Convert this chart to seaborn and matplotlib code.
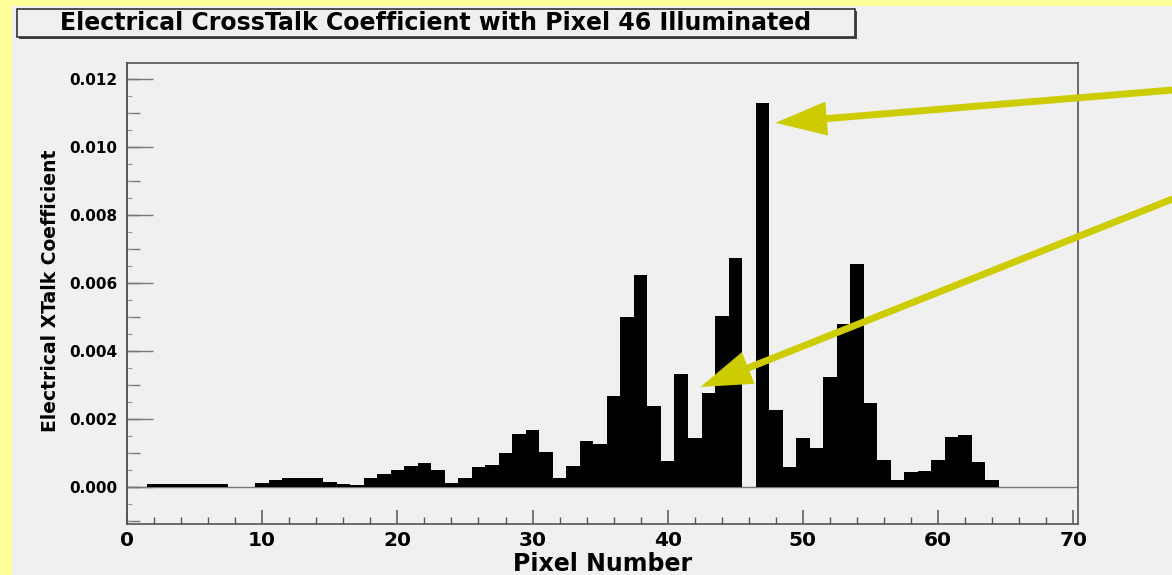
import numpy as np
import pandas as pd
import matplotlib
matplotlib.use("Agg")
import matplotlib.pyplot as plt
import seaborn as sns
from matplotlib.ticker import MultipleLocator, FormatStrFormatter, FixedLocator
from matplotlib.patches import Rectangle

# ---------------- data ----------------
pixel_number = list(range(1, 65))
xtalk_coeff = [
    0.00000, 0.00010, 0.00008, 0.00008, 0.00008, 0.00008, 0.00008, 0.00000,
    0.00000, 0.00011, 0.00020, 0.00027, 0.00027, 0.00027, 0.00016, 0.00010,
    0.00006, 0.00026, 0.00037, 0.00049, 0.00062, 0.00069, 0.00049, 0.00013,
    0.00026, 0.00059, 0.00064, 0.00100, 0.00157, 0.00167, 0.00104, 0.00026,
    0.00061, 0.00134, 0.00126, 0.00267, 0.00499, 0.00623, 0.00237, 0.00077,
    0.00332, 0.00144, 0.00276, 0.00504, 0.00672, 0.00000, 0.01130, 0.00225,
    0.00059, 0.00143, 0.00116, 0.00324, 0.00478, 0.00657, 0.00246, 0.00079,
    0.00020, 0.00044, 0.00047, 0.00080, 0.00147, 0.00154, 0.00072, 0.00021,
]
x_ticks = [0, 10, 20, 30, 40, 50, 60, 70]
y_ticks = [0.000, 0.002, 0.004, 0.006, 0.008, 0.010, 0.012]
title_text = "Electrical CrossTalk Coefficient with Pixel 46 Illuminated"
x_label = "Pixel Number"
y_label = "Electrical XTalk Coefficient"
illuminated_pixel = 46
arrow_targets = [47, 43]

df = pd.DataFrame({"pixel": pixel_number, "xtalk": xtalk_coeff})

# ---------------- style ----------------
sns.set_style("ticks")
plt.rcParams["font.family"] = ["DejaVu Sans"]
plt.rcParams["font.weight"] = "bold"
plt.rcParams["text.color"] = "black"
plt.rcParams["axes.labelcolor"] = "black"
plt.rcParams["xtick.labelcolor"] = "black"
plt.rcParams["ytick.labelcolor"] = "black"

W, H = 1172, 575
PANEL = "#f0f0f0"
YELLOW = "#ffff99"
ARROW = "#cccc00"
AXC = "#555555"

fig = plt.figure(figsize=(W / 100, H / 100), dpi=100, facecolor=YELLOW)
fig.patches.append(Rectangle((12 / W, 0), 1 - 12 / W, 1 - 6 / H,
                             transform=fig.transFigure, facecolor=PANEL,
                             edgecolor="none", zorder=-10))

ax = fig.add_axes([127 / W, 51 / H, 951 / W, 461 / H])
ax.set_facecolor(PANEL)

sns.histplot(data=df, x="pixel", weights="xtalk",
             binwidth=1.0, binrange=(0.5, 64.5), color="black", alpha=1.0,
             linewidth=0, ax=ax)
ax.axhline(0, color="#777777", lw=1.0, zorder=0.5)

ax.set_xlim(0, 70.35)
ax.set_ylim(-0.00109, 0.01247)

for s in ax.spines.values():
    s.set_visible(True)
    s.set_color(AXC)
    s.set_linewidth(1.2)

# x ticks
ax.xaxis.set_major_locator(FixedLocator(x_ticks))
ax.xaxis.set_minor_locator(MultipleLocator(2))
ax.tick_params(axis="x", which="major", direction="in", length=10, width=1.1,
               color=AXC, labelsize=14.5, pad=5, top=False, labelcolor="black")
ax.tick_params(axis="x", which="minor", direction="in", length=5, width=1.0,
               color=AXC, top=False)

# y ticks
ax.yaxis.set_major_locator(FixedLocator(y_ticks))
ax.yaxis.set_major_formatter(FormatStrFormatter("%.3f"))
ax.yaxis.set_minor_locator(MultipleLocator(0.0005))
ax.tick_params(axis="y", which="major", direction="in", length=19, width=1.0,
               color="#777777", labelsize=11, pad=7, right=False,
               labelcolor="black")
ax.tick_params(axis="y", which="minor", direction="in", length=3.5, width=0.8,
               color="#999999", right=False)

sec = ax.secondary_yaxis("left")
sec.yaxis.set_major_locator(MultipleLocator(0.001))
sec.tick_params(axis="y", which="major", direction="in", length=9.5, width=1.0,
                color="#777777", labelleft=False)
sec.yaxis.set_minor_locator(FixedLocator([]))
sec.spines["left"].set_color(AXC)
sec.spines["left"].set_linewidth(1.2)

for lab in ax.get_xticklabels() + ax.get_yticklabels():
    lab.set_fontweight("bold")

ax.set_xlabel(x_label, fontsize=17, fontweight="bold", va="center",
              color="black")
ax.xaxis.set_label_coords(0.5005, -0.0868)
ax.set_ylabel(y_label, fontsize=13.5, fontweight="bold", va="center",
              color="black")
ax.yaxis.set_label_coords(-0.080, 0.505)

# title box
fig.patches.append(Rectangle((19 / W, 1 - 39 / H), 838 / W, 28 / H,
                             transform=fig.transFigure, facecolor="#444444",
                             edgecolor="none", zorder=-5))
fig.patches.append(Rectangle((17 / W, 1 - 37 / H), 838 / W, 28 / H,
                             transform=fig.transFigure, facecolor=PANEL,
                             edgecolor="#333333", linewidth=1.2, zorder=-4))
fig.text(436 / W, 1 - 23.5 / H, title_text, ha="center", va="center",
         fontsize=17, fontweight="bold", color="black")

# arrows
val = dict(zip(pixel_number, xtalk_coeff))
tips = [(arrow_targets[0] + 0.97, val[arrow_targets[0]] - 0.00059),
        (arrow_targets[1] - 0.58, val[arrow_targets[1]] + 0.00018)]
tails = [(1185, H - 89), (1185, H - 194)]
for tip, tail in zip(tips, tails):
    ax.annotate("", xy=tip, xycoords="data", xytext=tail,
                textcoords="figure pixels", annotation_clip=False,
                arrowprops=dict(arrowstyle="simple,head_length=3.7,head_width=2.45,tail_width=0.5",
                                color=ARROW, mutation_scale=10, shrinkA=0,
                                shrinkB=0, lw=0))

fig.savefig("out.png", dpi=100, facecolor=fig.get_facecolor())
